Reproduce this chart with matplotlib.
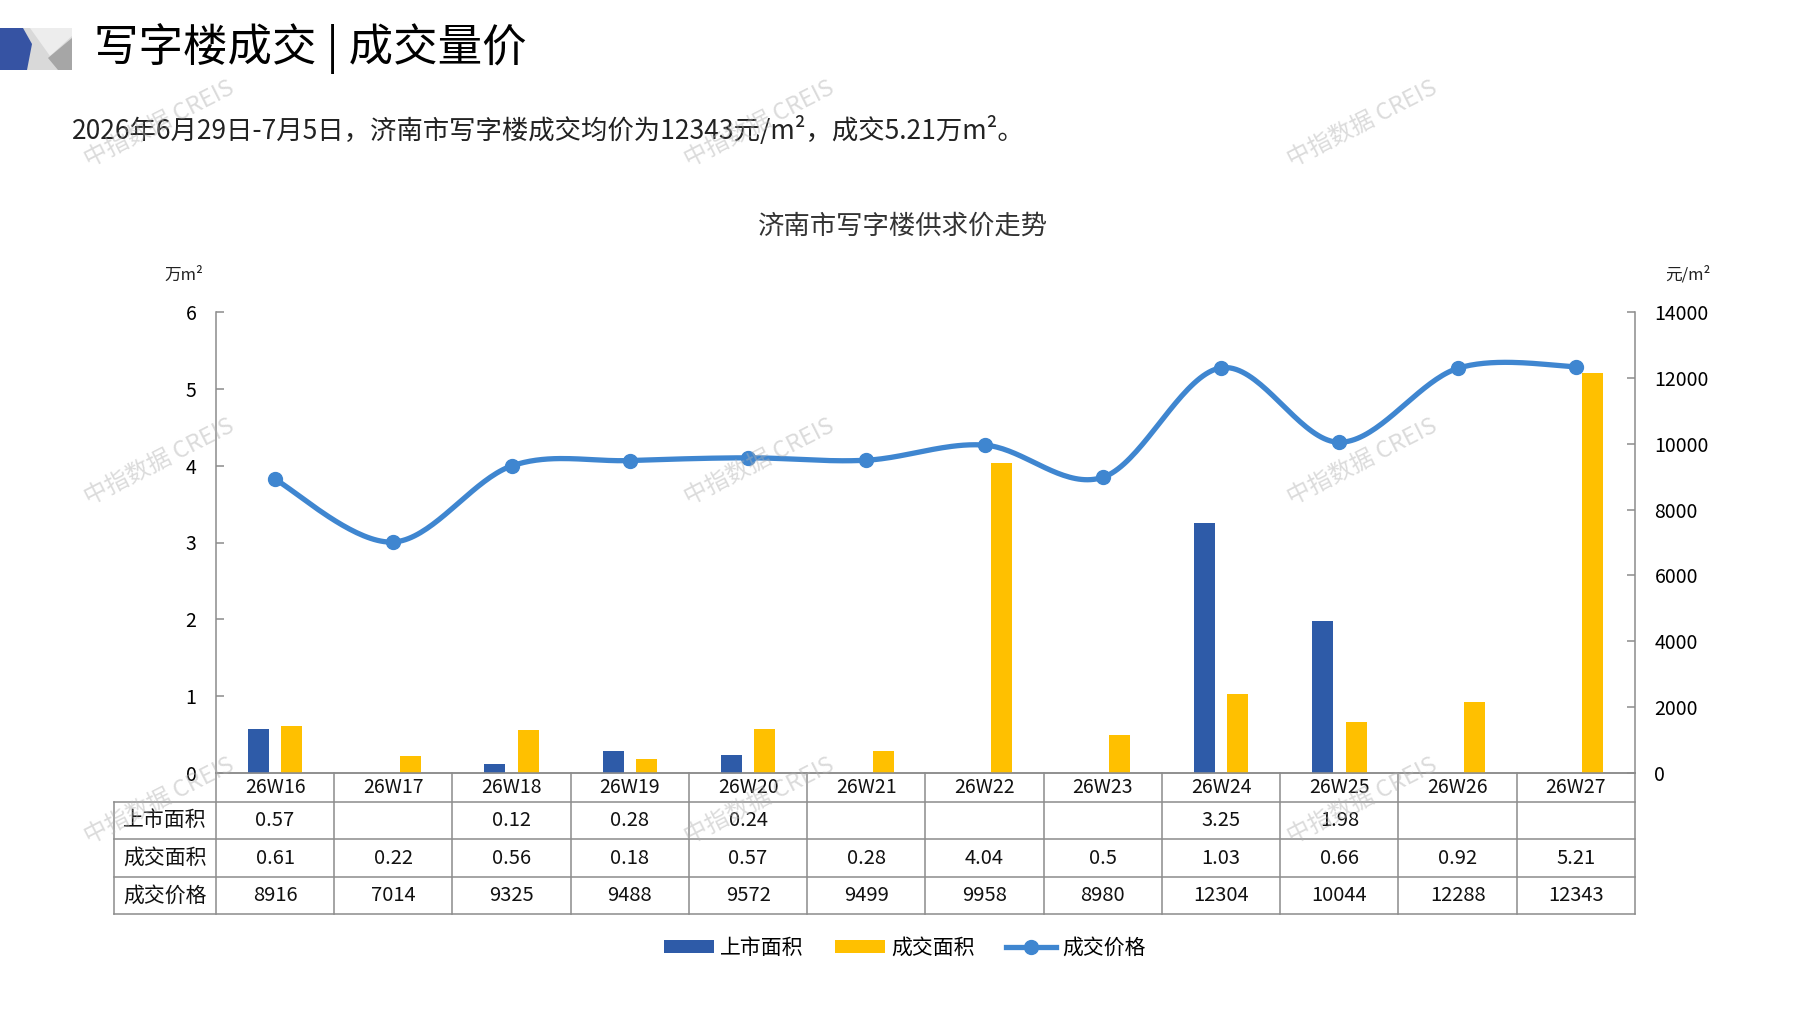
import numpy as np
import matplotlib
matplotlib.use('Agg')
import matplotlib.pyplot as plt
import matplotlib.transforms as mtransforms
from matplotlib.patches import Polygon, Rectangle
from matplotlib.lines import Line2D

plt.rcParams['font.family'] = ['Noto Sans CJK SC', 'DejaVu Sans']

# data
weeks = ['26W16', '26W17', '26W18', '26W19', '26W20', '26W21',
         '26W22', '26W23', '26W24', '26W25', '26W26', '26W27']
supply = [0.57, np.nan, 0.12, 0.28, 0.24, np.nan, np.nan, np.nan, 3.25, 1.98, np.nan, np.nan]
deal = [0.61, 0.22, 0.56, 0.18, 0.57, 0.28, 4.04, 0.5, 1.03, 0.66, 0.92, 5.21]
price = [8916, 7014, 9325, 9488, 9572, 9499, 9958, 8980, 12304, 10044, 12288, 12343]
row_names = ['上市面积', '成交面积', '成交价格']
series_names = ['上市面积', '成交面积', '成交价格']

blue = '#2E5BA8'
yellow = '#FFC000'
line_c = '#3F86D0'
grey = '#8C8C8C'

W, H = 1797, 1010
fig = plt.figure(figsize=(W / 100, H / 100), dpi=100)

# full-figure overlay in pixel coords (y down)
bg = fig.add_axes([0, 0, 1, 1])
bg.set_xlim(0, W)
bg.set_ylim(H, 0)
bg.axis('off')

# header icon
bg.add_patch(Rectangle((0, 28), 72, 42, color='#D9D9D9', lw=0))
bg.add_patch(Polygon([(30, 28), (72, 28), (72, 36), (50, 56)], color='#EDEDED', lw=0))
bg.add_patch(Polygon([(72, 38), (72, 70), (58, 70), (48, 58)], color='#A6A6A6', lw=0))
bg.add_patch(Polygon([(0, 28), (23, 28), (32, 44), (27, 70), (0, 70)], color='#3653A3', lw=0))
bg.text(94, 49, '写字楼成交 | 成交量价', fontsize=32, va='center', ha='left', color='black')
bg.text(72, 131, '2026年6月29日-7月5日，济南市写字楼成交均价为12343元/m²，成交5.21万m²。',
        fontsize=19, va='center', ha='left', color='#222222')
bg.text(903, 226, '济南市写字楼供求价走势', fontsize=19, va='center', ha='center', color='#333333')
bg.text(184, 275, '万m²', fontsize=12, va='center', ha='center', color='#222222')
bg.text(1688, 275, '元/m²', fontsize=12, va='center', ha='center', color='#222222')

# main chart
left_px, right_px, top_px, zero_px = 216, 1635, 312, 773
ax = fig.add_axes([left_px / W, (H - zero_px) / H, (right_px - left_px) / W, (zero_px - top_px) / H])
ax.patch.set_alpha(0)
x = np.arange(len(weeks))
b1 = ax.bar(x - 0.142, supply, width=0.178, color=blue, zorder=2)
b2 = ax.bar(x + 0.142, deal, width=0.178, color=yellow, zorder=2)
ax.set_xlim(-0.5, len(weeks) - 0.5)
ax.set_ylim(0, 6)
ax.set_xticks([])
ax.set_yticks(range(0, 7))
ax.tick_params(axis='y', direction='in', length=6, width=1.1, pad=14, labelsize=14, color=grey)
for s in ['top', 'right']:
    ax.spines[s].set_visible(False)
for s in ['left', 'bottom']:
    ax.spines[s].set_color(grey)
    ax.spines[s].set_linewidth(1.1)

ax2 = ax.twinx()
ax2.set_ylim(0, 14000)
ax2.set_yticks(range(0, 14001, 2000))
ax2.tick_params(axis='y', direction='in', length=6, width=1.1, pad=14, labelsize=14, color=grey)
for s in ['top', 'left', 'bottom']:
    ax2.spines[s].set_visible(False)
ax2.spines['right'].set_color(grey)
ax2.spines['right'].set_linewidth(1.1)


def smooth(xs, ys, n=40):
    # bezier smoothing through every point, like a spreadsheet "smoothed line"
    pts = np.column_stack([xs, ys]).astype(float)
    out = []
    for i in range(len(pts) - 1):
        p0 = pts[i - 1] if i > 0 else pts[i]
        p1, p2 = pts[i], pts[i + 1]
        p3 = pts[i + 2] if i + 2 < len(pts) else pts[i + 1]
        c1 = p1 + (p2 - p0) / 6
        c2 = p2 - (p3 - p1) / 6
        t = np.linspace(0, 1, n)[:, None]
        seg = (1 - t) ** 3 * p1 + 3 * (1 - t) ** 2 * t * c1 + 3 * (1 - t) * t ** 2 * c2 + t ** 3 * p2
        out.append(seg if i == 0 else seg[1:])
    out = np.vstack(out)
    return out[:, 0], out[:, 1]


sx, sy = smooth(x, price)
ax2.plot(sx, sy, color=line_c, lw=3.8, solid_capstyle='round', zorder=3)
ax2.plot(x, price, 'o', color=line_c, ms=10, zorder=4)

# data table under the chart
trans = mtransforms.blended_transform_factory(ax.transData, bg.transData)
row_edges = [773, 802, 839, 877, 914]
tbl_left = 114
for i in range(len(weeks) + 1):
    ax.plot([i - 0.5, i - 0.5], [row_edges[0], row_edges[-1]], transform=trans,
            color=grey, lw=1.1, clip_on=False)
bg.plot([tbl_left, tbl_left], [row_edges[1], row_edges[-1]], color=grey, lw=1.1)
bg.plot([left_px, right_px], [row_edges[0], row_edges[0]], color=grey, lw=1.1)
for yy in row_edges[1:]:
    bg.plot([tbl_left, right_px], [yy, yy], color=grey, lw=1.1)

rows = [
    [f'{v:g}' if not np.isnan(v) else '' for v in supply],
    [f'{v:g}' for v in deal],
    [str(v) for v in price],
]
mid = lambda k: (row_edges[k] + row_edges[k + 1]) / 2
for i, w in enumerate(weeks):
    ax.text(i, mid(0), w, transform=trans, ha='center', va='center', fontsize=14, color='#111111')
    for r in range(3):
        ax.text(i, mid(r + 1), rows[r][i], transform=trans, ha='center', va='center',
                fontsize=14.5, color='#111111')
for r, name in enumerate(row_names):
    bg.text((tbl_left + left_px) / 2, mid(r + 1), name, ha='center', va='center',
            fontsize=15, color='#111111')

# legend
h3 = Line2D([], [], color=line_c, lw=3.8, marker='o', ms=10)
fig.legend([b1, b2, h3], series_names, loc='center', bbox_to_anchor=(905 / W, 1 - 948 / H),
           ncol=3, frameon=False, fontsize=15, handlelength=2.4, handleheight=0.6,
           handletextpad=0.3, columnspacing=1.5)

# watermarks
for wx in [159, 759, 1362]:
    for wy in [124, 462, 801]:
        fig.text(wx, wy, '中指数据 CREIS', transform=bg.transData, rotation=27,
                 ha='center', va='center', fontsize=17, color='#B0B0B0', alpha=0.45)

fig.savefig('out.png', dpi=100)
